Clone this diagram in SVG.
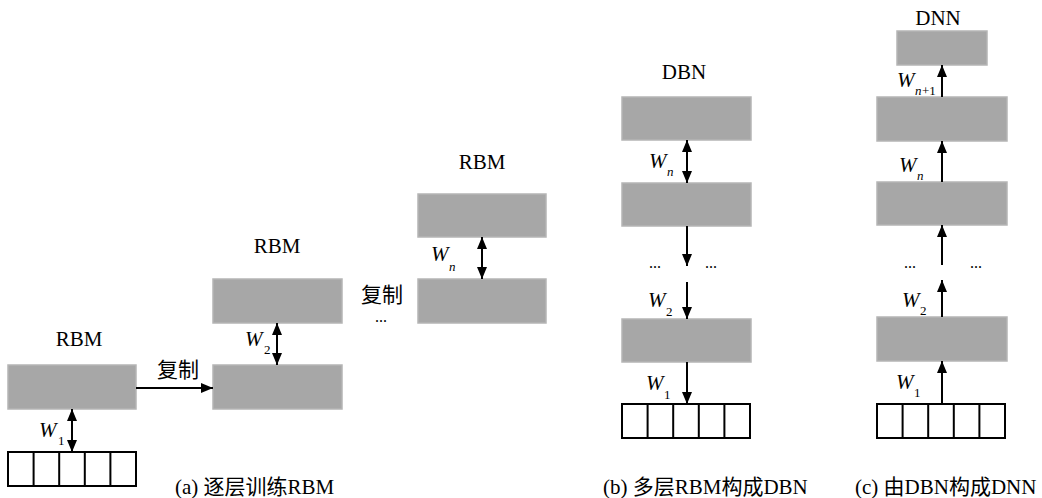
<svg xmlns="http://www.w3.org/2000/svg" width="1042" height="498" viewBox="0 0 1042 498">
  <defs>
    <marker id="head" viewBox="0 0 12 10" refX="12" refY="5" markerWidth="12" markerHeight="10" markerUnits="userSpaceOnUse" orient="auto-start-reverse">
      <path d="M0,0 L12,5 L0,10 z" fill="#000"/>
    </marker>
    <g id="grid5">
      <rect x="0" y="0" width="128" height="34" fill="#fff" stroke="#000" stroke-width="2"/>
      <path d="M25.6,0 V34 M51.2,0 V34 M76.8,0 V34 M102.4,0 V34" stroke="#000" stroke-width="2"/>
    </g>
  </defs>
  <style>
    .layer { fill: #a7a7a7; stroke: #b5b5b5; stroke-width: 1.5; }
    .lbl { font-family: "Liberation Serif", "Times New Roman", serif; font-size: 21px; fill: #000; }
    .cn { font-family: "Liberation Serif", "Noto Sans CJK SC", serif; font-size: 21px; fill: #000; }
    .w { font-family: "Liberation Serif", serif; font-style: italic; font-size: 21px; fill: #000; }
    .sub { font-family: "Liberation Serif", serif; font-size: 13px; fill: #000; }
    .subi { font-family: "Liberation Serif", serif; font-style: italic; font-size: 13px; fill: #000; }
    .dots { font-family: "Liberation Serif", serif; font-size: 16px; fill: #000; }
    .conn line { stroke: #000; stroke-width: 2; }
    .one { marker-end: url(#head); }
    .two { marker-start: url(#head); marker-end: url(#head); }
  </style>

  <!-- (a) layer-wise RBM training -->
  <g id="a-rbm1">
    <rect class="layer" x="8" y="365" width="128" height="44"/>
  </g>
  <g id="a-visible">
    <use href="#grid5" x="8" y="452"/>
  </g>
  <g id="a-rbm2-visible">
    <rect class="layer" x="213" y="365" width="129" height="44"/>
  </g>
  <g id="a-rbm2-hidden">
    <rect class="layer" x="213" y="279" width="129" height="44"/>
  </g>
  <g id="a-rbmn-visible">
    <rect class="layer" x="418" y="279" width="128" height="44"/>
  </g>
  <g id="a-rbmn-hidden">
    <rect class="layer" x="418" y="194" width="128" height="43"/>
  </g>

  <!-- (b) DBN -->
  <g id="b-top">
    <rect class="layer" x="622" y="97" width="129" height="43"/>
  </g>
  <g id="b-mid">
    <rect class="layer" x="622" y="183" width="129" height="43"/>
  </g>
  <g id="b-low">
    <rect class="layer" x="622" y="319" width="129" height="43"/>
  </g>
  <g id="b-visible">
    <use href="#grid5" x="622" y="404"/>
  </g>

  <!-- (c) DNN -->
  <g id="c-out">
    <rect class="layer" x="897" y="31" width="90" height="34"/>
  </g>
  <g id="c-top">
    <rect class="layer" x="877" y="97" width="130" height="44"/>
  </g>
  <g id="c-mid">
    <rect class="layer" x="877" y="182" width="130" height="43"/>
  </g>
  <g id="c-low">
    <rect class="layer" x="877" y="317" width="130" height="44"/>
  </g>
  <g id="c-visible">
    <use href="#grid5" x="877" y="404"/>
  </g>

  <!-- connectors -->
  <g id="connectors" class="conn">
    <line class="two" x1="72" y1="409" x2="72" y2="452"/>
    <line class="one" x1="136" y1="388" x2="213" y2="388"/>
    <line class="two" x1="277" y1="323" x2="277" y2="365"/>
    <line class="two" x1="482" y1="237" x2="482" y2="279"/>

    <line class="two" x1="687" y1="140" x2="687" y2="183"/>
    <line class="one" x1="687" y1="226" x2="687" y2="266"/>
    <line class="one" x1="687" y1="282" x2="687" y2="319"/>
    <line class="one" x1="687" y1="362" x2="687" y2="404"/>

    <line class="one" x1="942" y1="97" x2="942" y2="65"/>
    <line class="one" x1="942" y1="182" x2="942" y2="141"/>
    <line class="one" x1="942" y1="265" x2="942" y2="225"/>
    <line class="one" x1="942" y1="317" x2="942" y2="280"/>
    <line class="one" x1="942" y1="404" x2="942" y2="361"/>
  </g>

  <!-- titles -->
  <text class="lbl" x="79" y="346" text-anchor="middle">RBM</text>
  <text class="lbl" x="277" y="253" text-anchor="middle">RBM</text>
  <text class="lbl" x="482" y="169" text-anchor="middle">RBM</text>
  <text class="lbl" x="684" y="79" text-anchor="middle">DBN</text>
  <text class="lbl" x="938" y="25" text-anchor="middle">DNN</text>

  <text class="cn" x="178" y="377" text-anchor="middle">复制</text>
  <text class="cn" x="382" y="302" text-anchor="middle">复制</text>
  <text class="dots" x="381" y="322" text-anchor="middle">...</text>

  <text class="dots" x="655" y="268" text-anchor="middle">...</text>
  <text class="dots" x="711" y="268" text-anchor="middle">...</text>
  <text class="dots" x="910" y="268" text-anchor="middle">...</text>
  <text class="dots" x="976" y="268" text-anchor="middle">...</text>

  <!-- weight labels -->
  <text class="w" x="39" y="437">W</text><text class="sub" x="58" y="445">1</text>
  <text class="w" x="245" y="346">W</text><text class="sub" x="264" y="354">2</text>
  <text class="w" x="431" y="261">W</text><text class="subi" x="449" y="271">n</text>

  <text class="w" x="649" y="168">W</text><text class="subi" x="667" y="176">n</text>
  <text class="w" x="648" y="307">W</text><text class="sub" x="666" y="316">2</text>
  <text class="w" x="646" y="390">W</text><text class="sub" x="664" y="399">1</text>

  <text class="w" x="897" y="87">W</text><text class="subi" x="915" y="95">n</text><text class="sub" x="922" y="95">+1</text>
  <text class="w" x="899" y="172">W</text><text class="subi" x="917" y="180">n</text>
  <text class="w" x="902" y="307">W</text><text class="sub" x="920" y="315">2</text>
  <text class="w" x="896" y="389">W</text><text class="sub" x="914" y="397">1</text>

  <!-- captions -->
  <text class="cn" x="175" y="494">(a) 逐层训练RBM</text>
  <text class="cn" x="603" y="494">(b) 多层RBM构成DBN</text>
  <text class="cn" x="855" y="494">(c) 由DBN构成DNN</text>
</svg>
